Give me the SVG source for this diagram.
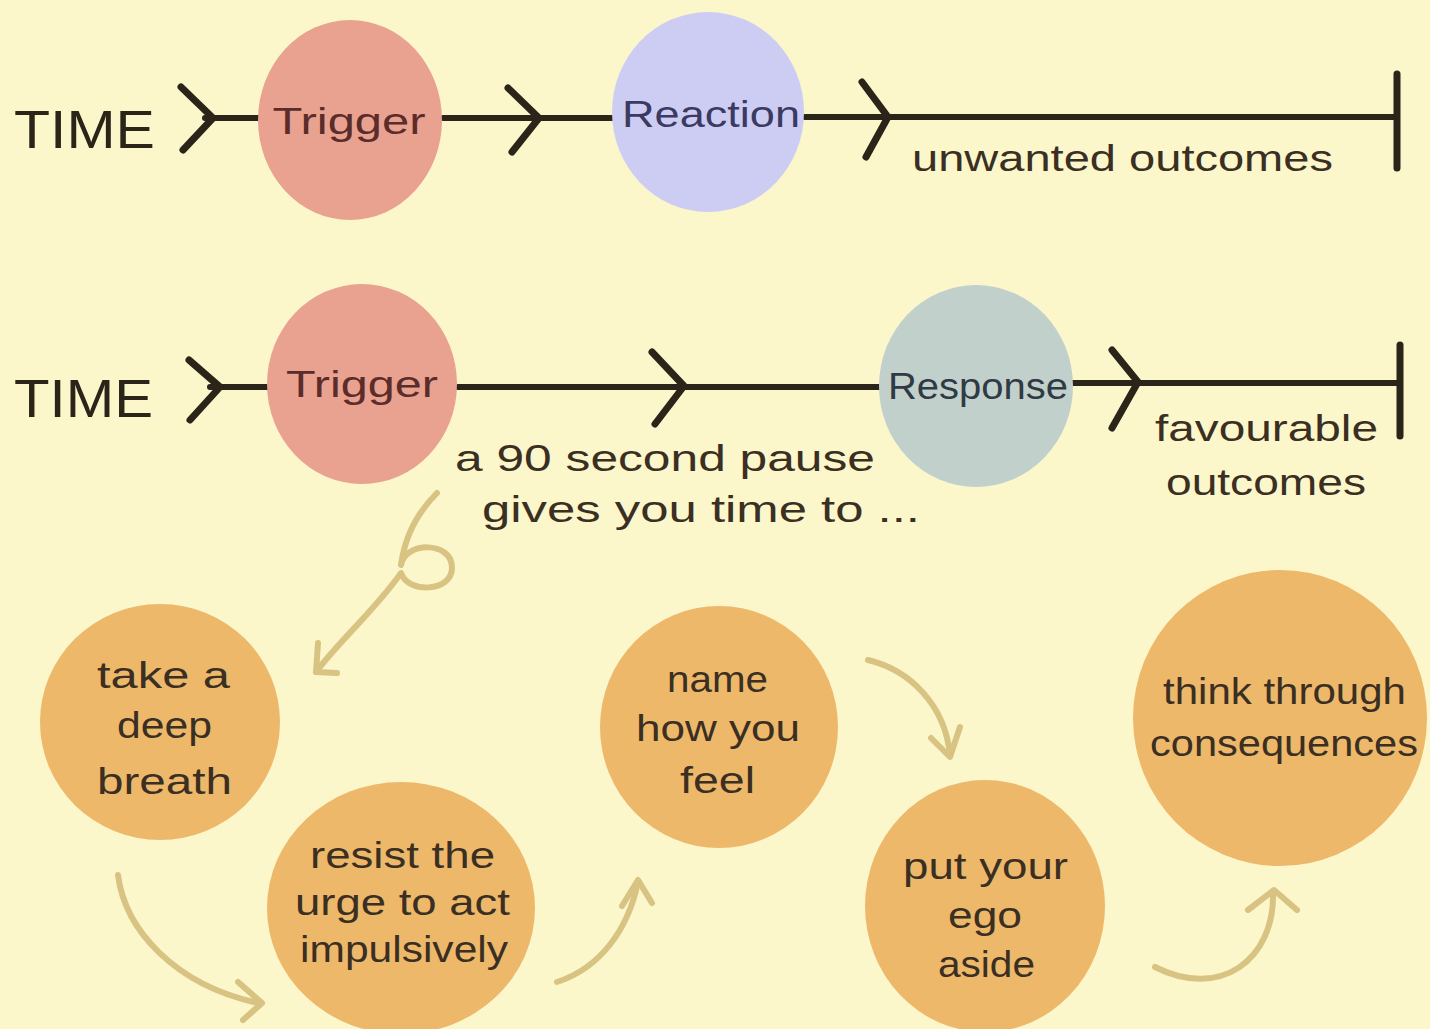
<svg xmlns="http://www.w3.org/2000/svg" width="1430" height="1029" viewBox="0 0 1430 1029">
<style>
.ln{stroke:#2a2419;stroke-width:6;fill:none;stroke-linecap:round;stroke-linejoin:round}
.cv{stroke:#2a2419;stroke-width:7;fill:none;stroke-linecap:round;stroke-linejoin:round}
.tan{stroke:#d8c382;stroke-width:6;fill:none;stroke-linecap:round;stroke-linejoin:round}
text{font-family:"Liberation Sans","DejaVu Sans",sans-serif;fill:#3a2f22;font-size:37px}
.big{font-size:54px;fill:#2a2419}
.c{text-anchor:middle}
.org{fill:#edb86a}
</style>
<rect width="1430" height="1029" fill="#fbf7cb"/>
<g id="connectors">
<line class="ln" x1="205" y1="118" x2="260" y2="118"/>
<polyline class="cv" points="181,87 213,118 183,150"/>
<line class="ln" x1="443" y1="118" x2="612" y2="118"/>
<polyline class="cv" points="508,88 539,118 512,152"/>
<line class="ln" x1="805" y1="117" x2="1397" y2="117"/>
<polyline class="cv" points="862,82 888,117 866,157"/>
<line class="cv" x1="1397" y1="74" x2="1397" y2="168"/>
<line class="ln" x1="210" y1="387" x2="268" y2="387"/>
<polyline class="cv" points="189,360 220,387 190,420"/>
<line class="ln" x1="458" y1="387" x2="880" y2="387"/>
<polyline class="cv" points="652,352 684,386 655,424"/>
<line class="ln" x1="1072" y1="383" x2="1400" y2="383"/>
<polyline class="cv" points="1112,350 1138,382 1112,428"/>
<line class="cv" x1="1400" y1="345" x2="1400" y2="436"/>
<path class="tan" d="M437,493 C418,512 405,535 401,565 C404,542 452,540 452,568 C452,592 408,594 401,573 C375,610 340,640 316,672"/>
<polyline class="tan" points="318,643 316,672 337,673"/>
<path class="tan" d="M118,875 C125,930 175,985 258,1003"/>
<polyline class="tan" points="238,982 262,1003 243,1020"/>
<path class="tan" d="M557,982 C600,968 628,930 638,882"/>
<polyline class="tan" points="622,906 638,880 652,903"/>
<path class="tan" d="M868,660 C910,670 945,705 950,755"/>
<polyline class="tan" points="931,738 950,757 960,727"/>
<path class="tan" d="M1155,967 C1220,1000 1275,960 1273,892"/>
<polyline class="tan" points="1248,910 1274,890 1297,910"/>
</g>
<g id="time1"><text class="big" x="14" y="148" textLength="141" lengthAdjust="spacingAndGlyphs">TIME</text></g>
<g id="trigger1"><ellipse cx="350" cy="120" rx="92" ry="100" fill="#e9a190"/><text class="c" x="349" y="134" style="fill:#5a2c2a" textLength="153" lengthAdjust="spacingAndGlyphs">Trigger</text></g>
<g id="reaction"><ellipse cx="708" cy="112" rx="96" ry="100" fill="#cdcdf3"/><text class="c" x="711" y="127" style="fill:#3a3a62" textLength="178" lengthAdjust="spacingAndGlyphs">Reaction</text></g>
<g id="unwanted"><text x="912" y="171" textLength="421" lengthAdjust="spacingAndGlyphs">unwanted outcomes</text></g>
<g id="time2"><text class="big" x="14" y="417" textLength="139" lengthAdjust="spacingAndGlyphs">TIME</text></g>
<g id="trigger2"><ellipse cx="362" cy="384" rx="95" ry="100" fill="#e9a190"/><text class="c" x="362" y="397" style="fill:#5a2c2a" textLength="152" lengthAdjust="spacingAndGlyphs">Trigger</text></g>
<g id="response"><ellipse cx="976" cy="386" rx="97" ry="101" fill="#c2d0cc"/><text class="c" x="978" y="399" style="fill:#2f3a44" textLength="180" lengthAdjust="spacingAndGlyphs">Response</text></g>
<g id="favourable"><text x="1155" y="441" textLength="223" lengthAdjust="spacingAndGlyphs">favourable</text><text x="1166" y="495" textLength="200" lengthAdjust="spacingAndGlyphs">outcomes</text></g>
<g id="pause"><text x="455" y="471" textLength="420" lengthAdjust="spacingAndGlyphs">a 90 second pause</text><text x="482" y="522" textLength="438" lengthAdjust="spacingAndGlyphs">gives you time to ...</text></g>
<g id="breath"><ellipse class="org" cx="160" cy="722" rx="120" ry="118"/>
<text x="97" y="688" textLength="133" lengthAdjust="spacingAndGlyphs">take a</text>
<text x="117" y="738" textLength="95" lengthAdjust="spacingAndGlyphs">deep</text>
<text x="97" y="794" textLength="135" lengthAdjust="spacingAndGlyphs">breath</text></g>
<g id="resist"><ellipse class="org" cx="401" cy="908" rx="134" ry="126"/>
<text x="310" y="868" textLength="185" lengthAdjust="spacingAndGlyphs">resist the</text>
<text x="295" y="915" textLength="215" lengthAdjust="spacingAndGlyphs">urge to act</text>
<text x="300" y="962" textLength="208" lengthAdjust="spacingAndGlyphs">impulsively</text></g>
<g id="name"><ellipse class="org" cx="719" cy="727" rx="119" ry="121"/>
<text x="667" y="692" textLength="101" lengthAdjust="spacingAndGlyphs">name</text>
<text x="636" y="741" textLength="164" lengthAdjust="spacingAndGlyphs">how you</text>
<text x="680" y="793" textLength="75" lengthAdjust="spacingAndGlyphs">feel</text></g>
<g id="ego"><ellipse class="org" cx="985" cy="906" rx="120" ry="126"/>
<text x="903" y="879" textLength="165" lengthAdjust="spacingAndGlyphs">put your</text>
<text x="948" y="928" textLength="74" lengthAdjust="spacingAndGlyphs">ego</text>
<text x="938" y="977" textLength="97" lengthAdjust="spacingAndGlyphs">aside</text></g>
<g id="think"><ellipse class="org" cx="1280" cy="718" rx="147" ry="148"/>
<text x="1163" y="704" textLength="243" lengthAdjust="spacingAndGlyphs">think through</text>
<text x="1150" y="756" textLength="268" lengthAdjust="spacingAndGlyphs">consequences</text></g>
</svg>
